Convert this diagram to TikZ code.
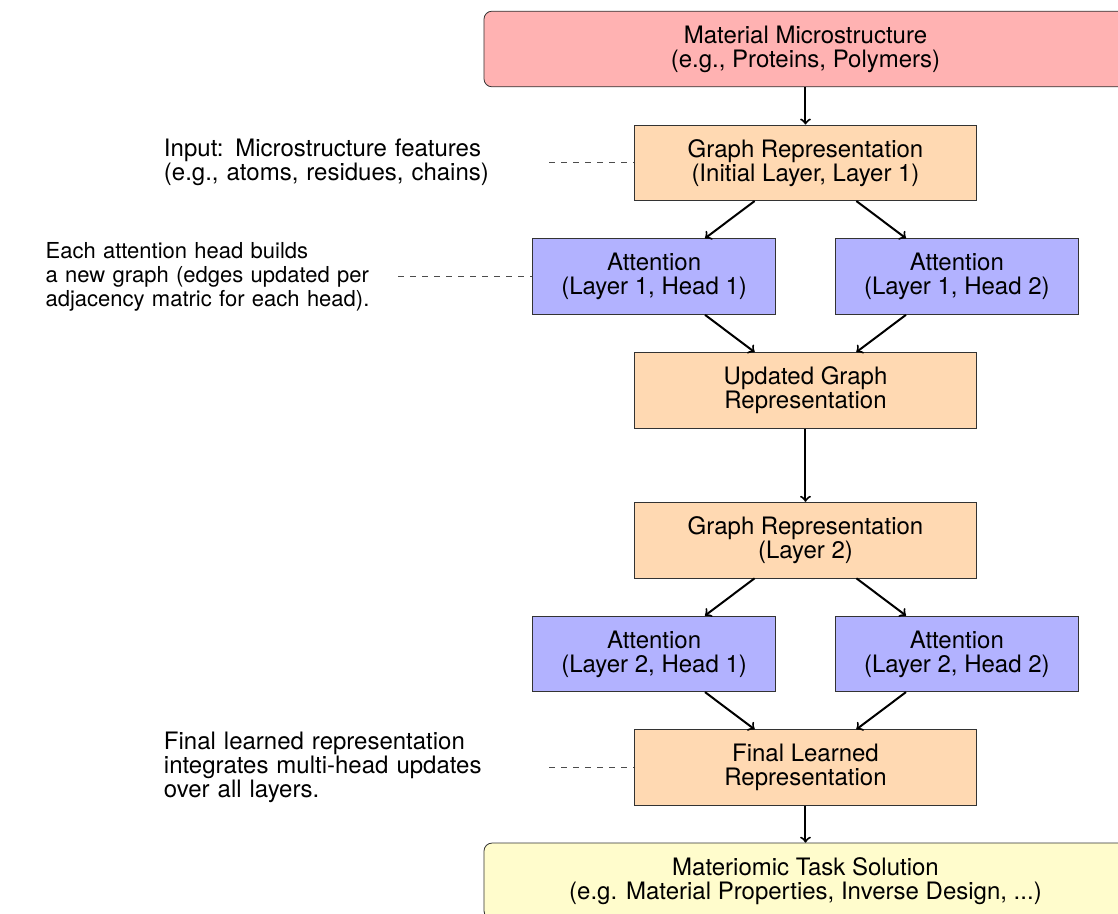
\documentclass[tikz,border=0pt]{standalone}
\usepackage{fontspec}
\setmainfont{TeX Gyre Heros}
\begin{document}
\begin{tikzpicture}[
    font=\fontsize{12}{12}\selectfont,
    mainbox/.style={draw=black!80, fill=orange!30, align=center, minimum width=6cm, minimum height=1.33cm},
    attbox/.style={draw=black!80, fill=blue!30, align=center, minimum width=4.27cm, minimum height=1.33cm},
    endbox/.style={draw=black!80, rounded corners, align=center, minimum width=11.3cm, minimum height=1.33cm},
    note/.style={anchor=east, align=left, text width=6.65cm},
    flow/.style={->, line width=1pt},
    link/.style={dashed, black!70}
]
    % Fix the canvas
    \useasboundingbox (-14.156,0.861) rectangle (5.492,-15.185);

    % Draw the main column
    \node[endbox, fill=red!30] (micro) at (0,0) {Material Microstructure\\(e.g., Proteins, Polymers)};
    \node[mainbox] (graph1) at (0,-2) {Graph Representation\\(Initial Layer, Layer 1)};
    \node[attbox] (att11) at (-2.66,-4) {Attention\\(Layer 1, Head 1)};
    \node[attbox] (att12) at (2.66,-4) {Attention\\(Layer 1, Head 2)};
    \node[mainbox] (updated) at (0,-6) {Updated Graph\\Representation};
    \node[mainbox] (graph2) at (0,-8.63) {Graph Representation\\(Layer 2)};
    \node[attbox] (att21) at (-2.66,-10.63) {Attention\\(Layer 2, Head 1)};
    \node[attbox] (att22) at (2.66,-10.63) {Attention\\(Layer 2, Head 2)};
    \node[mainbox] (final) at (0,-12.63) {Final Learned\\Representation};
    \node[endbox, fill=yellow!20] (task) at (0,-14.62) {Materiomic Task Solution\\(e.g. Material Properties, Inverse Design, ...)};

    % Draw the flow arrows
    \draw[flow] (micro) -- (graph1);
    \draw[flow] (graph1) -- (att11);
    \draw[flow] (graph1) -- (att12);
    \draw[flow] (att11) -- (updated);
    \draw[flow] (att12) -- (updated);
    \draw[flow] (updated) -- (graph2);
    \draw[flow] (graph2) -- (att21);
    \draw[flow] (graph2) -- (att22);
    \draw[flow] (att21) -- (final);
    \draw[flow] (att22) -- (final);
    \draw[flow] (final) -- (task);

    % Add side notes
    \node[note] (noteinput) at (-4.5,-2) {Input: Microstructure features\\(e.g., atoms, residues, chains)};
    \node[note, text width=6.07cm, font=\fontsize{11}{12}\selectfont] (notehead) at (-7.16,-4) {Each attention head builds\\a new graph (edges updated per\\adjacency matric for each head).};
    \node[note] (notefinal) at (-4.5,-12.63) {Final learned representation\\integrates multi-head updates\\over all layers.};

    % Draw dashed links to the notes
    \draw[link] (noteinput) -- (graph1);
    \draw[link] (notehead) -- (att11);
    \draw[link] (notefinal) -- (final);
\end{tikzpicture}
\end{document}
